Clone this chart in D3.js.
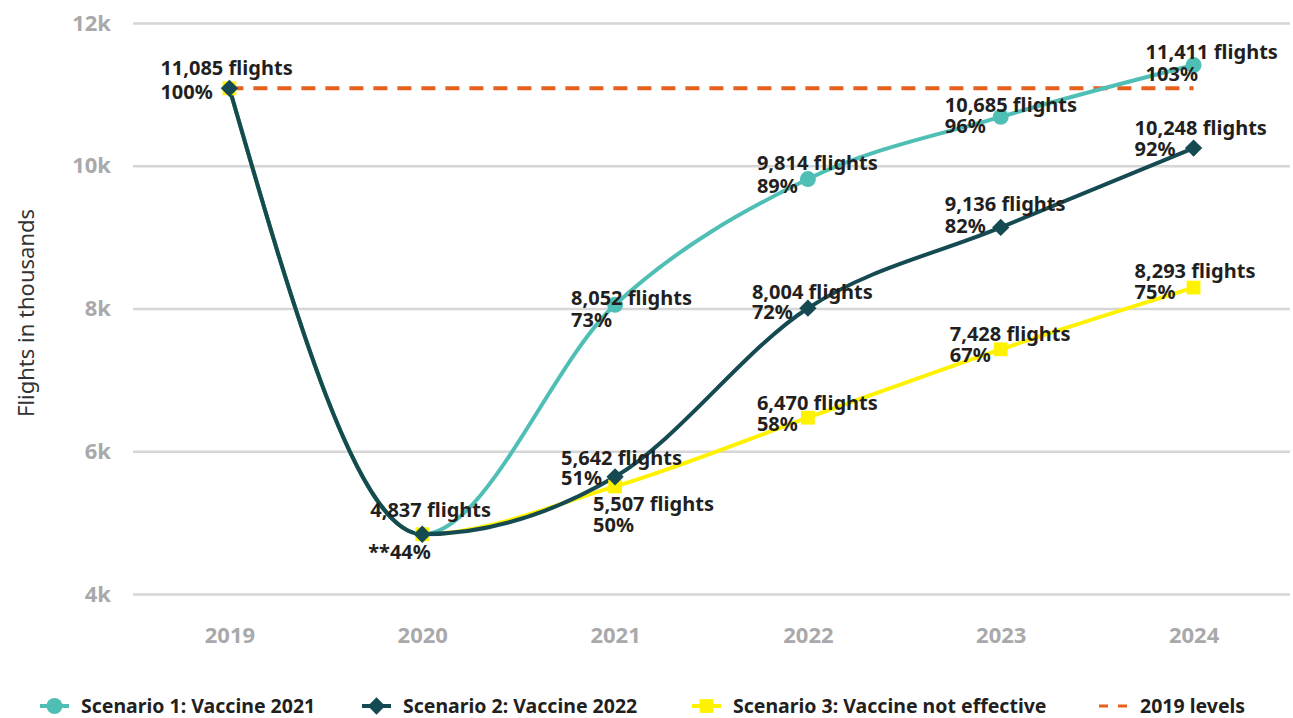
<!DOCTYPE html>
<html>
<head>
<meta charset="utf-8">
<script src="https://cdn.jsdelivr.net/npm/d3@7"></script>
<style>
  body { margin: 0; background: #fff; }
  svg { display: block; font-family: "Noto Sans", Lato, sans-serif; }
</style>
</head>
<body>
<svg id="chart" width="1293" height="718"></svg>
<script>
const years = ["2019", "2020", "2021", "2022", "2023", "2024"]
const scenario1 = [11085, 4837, 8052, 9814, 10685, 11411]
const scenario2 = [11085, 4837, 5642, 8004, 9136, 10248]
const scenario3 = [11085, 4837, 5507, 6470, 7428, 8293]
const pct1 = ["100%", "44%", "73%", "89%", "96%", "103%"]
const pct2 = ["100%", "**44%", "51%", "72%", "82%", "92%"]
const pct3 = ["100%", "44%", "50%", "58%", "67%", "75%"]
const level2019 = 11085
const yTicks = [4000, 6000, 8000, 10000, 12000]
const seriesNames = ["Scenario 1: Vaccine 2021", "Scenario 2: Vaccine 2022", "Scenario 3: Vaccine not effective", "2019 levels"]

const colors = { s1: "#4fbfb6", s2: "#164a53", s3: "#fff200", lvl: "#e8601c" }

const svg = d3.select("#chart")

const x = d3.scalePoint()
    .domain(years)
    .range([133, 1290])
    .padding(0.5)

const y = d3.scaleLinear()
    .domain([4000, 12000])
    .range([594, 23])

// grid + y labels
const yAxis = d3.axisLeft(y)
    .tickValues(yTicks)
    .tickSize(-(1290 - 133))
    .tickPadding(22)
    .tickFormat(d => (d / 1000) + "k")

svg.append("g")
    .attr("transform", "translate(133,0)")
    .call(yAxis)
    .call(g => g.select(".domain").remove())
    .call(g => g.selectAll(".tick line").attr("stroke", "#d6d6d6").attr("stroke-width", 2.5))
    .call(g => g.selectAll(".tick text")
        .attr("fill", "#a9a9ab")
        .style("font-family", "'Noto Sans', sans-serif")
        .style("font-size", "22px")
        .style("font-weight", "bold"))

// x labels
const xAxis = d3.axisBottom(x).tickSize(0).tickPadding(0)
svg.append("g")
    .attr("transform", "translate(0,627)")
    .call(xAxis)
    .call(g => g.select(".domain").remove())
    .call(g => g.selectAll(".tick text")
        .attr("fill", "#a9a9ab")
        .style("font-family", "'Noto Sans', sans-serif")
        .style("font-size", "22px")
        .style("font-weight", "bold"))

svg.append("text")
    .attr("transform", "translate(26,313) rotate(-90)")
    .attr("text-anchor", "middle")
    .attr("dy", "0.35em")
    .attr("fill", "#333")
    .style("font-size", "22px")
    .text("Flights in thousands")

// 2019 level
svg.append("line")
    .attr("x1", x(years[0])).attr("x2", x(years[years.length - 1]))
    .attr("y1", y(level2019)).attr("y2", y(level2019))
    .attr("stroke", colors.lvl)
    .attr("stroke-width", 4)
    .attr("stroke-dasharray", "14,10")

const line = d3.line()
    .x((d, i) => x(years[i]))
    .y(d => y(d))
    .curve(d3.curveMonotoneX)

const drawSeries = (vals, color) => {
    svg.append("path")
        .datum(vals)
        .attr("d", line)
        .attr("fill", "none")
        .attr("stroke", color)
        .attr("stroke-width", 4)
}

drawSeries(scenario3, colors.s3)
drawSeries(scenario1, colors.s1)
drawSeries(scenario2, colors.s2)

const sym = {
    s1: d3.symbol().type(d3.symbolCircle).size(200),
    s2: d3.symbol().type(d3.symbolSquare).size(150),
    s3: d3.symbol().type(d3.symbolSquare).size(190)
}

const drawMarkers = (vals, key, skip) => {
    svg.append("g").selectAll("path")
        .data(vals.map((v, i) => [years[i], v]).filter((d, i) => !skip.includes(i)))
        .join("path")
        .attr("transform", d => `translate(${x(d[0])},${y(d[1])})` + (key === "s2" ? " rotate(45)" : ""))
        .attr("d", sym[key])
        .attr("fill", colors[key])
}

drawMarkers(scenario3, "s3", [])
drawMarkers(scenario1, "s1", [0, 1])
drawMarkers(scenario2, "s2", [])

// labels
const fmt = d3.format(",")
const labels = []
const nudge = {
    "s1-0": [-69, -20, 4], "s1-2": [-44, -7, 15], "s1-3": [-51, -16, 7], "s1-4": [-56, -12, 9], "s1-5": [-48, -13, 9],
    "s2-1": [-52, -24, 18], "s2-2": [-54, -19, 1], "s2-3": [-56, -16, 4], "s2-4": [-56, -23, -1], "s2-5": [-59, -20, 1],
    "s3-2": [-22, 18, 39], "s3-3": [-51, -15, 6], "s3-4": [-51, -15, 6], "s3-5": [-59, -17, 4]
}
const addLabels = (vals, pcts, key) => {
    vals.forEach((v, i) => {
        const n = nudge[key + "-" + i]
        if (!n) return
        labels.push({ x: x(years[i]) + n[0], y1: y(v) + n[1], y2: y(v) + n[2], t1: fmt(v) + " flights", t2: pcts[i], key: key + i })
    })
}
addLabels(scenario1, pct1, "s1")
addLabels(scenario2, pct2, "s2")
addLabels(scenario3, pct3, "s3")

const lg = svg.append("g")
    .attr("fill", "#231f20")
    .style("font-size", "20px")
    .style("font-weight", "bold")
labels.forEach(l => {
    lg.append("text").attr("x", l.x).attr("y", l.y1).attr("dy", "0.35em").text(l.t1)
    lg.append("text").attr("x", l.key === "s21" ? l.x - 2 : l.x).attr("y", l.y2).attr("dy", "0.35em").text(l.t2)
})

// legend
const legendX = [40, 362, 692, 1099]
const legendKeys = ["s1", "s2", "s3", "lvl"]
const leg = svg.append("g").attr("transform", "translate(0,706)")
legendKeys.forEach((k, i) => {
    const g = leg.append("g").attr("transform", `translate(${legendX[i]},0)`)
    if (k === "lvl") {
        g.append("line").attr("x1", 0).attr("x2", 28).attr("y1", 0).attr("y2", 0)
            .attr("stroke", colors.lvl).attr("stroke-width", 3).attr("stroke-dasharray", "9,10")
    } else {
        g.append("line").attr("x1", 0).attr("x2", 29).attr("y1", 0).attr("y2", 0)
            .attr("stroke", colors[k]).attr("stroke-width", 4)
        g.append("path")
            .attr("transform", "translate(14.5,0)" + (k === "s2" ? " rotate(45)" : ""))
            .attr("d", sym[k]).attr("fill", colors[k])
    }
    g.append("text")
        .attr("x", k === "lvl" ? 41 : 41)
        .attr("dy", "0.35em")
        .attr("fill", "#231f20")
        .style("font-size", "19.5px")
        .style("font-weight", "bold")
        .text(seriesNames[i])
})
</script>
</body>
</html>
